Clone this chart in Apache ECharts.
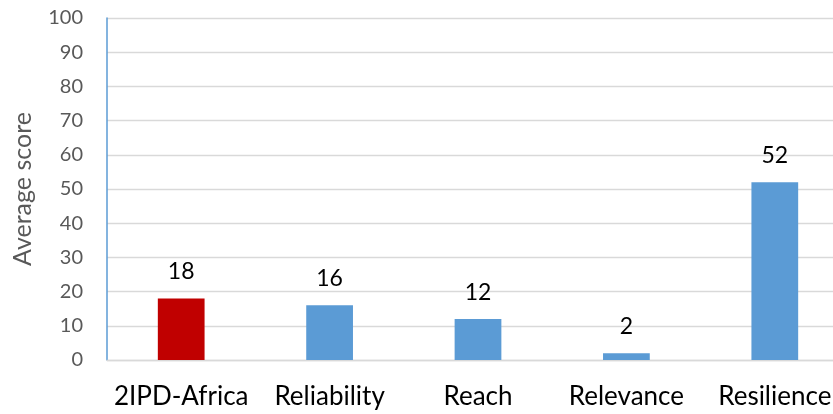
<!DOCTYPE html>
<html>
<head>
<meta charset="utf-8">
<script src="https://cdn.jsdelivr.net/npm/echarts@6/dist/echarts.min.js"></script>
<style>
  html, body { margin: 0; padding: 0; background: #fff; overflow: hidden; }
  #chart { width: 833px; height: 414px; }
</style>
</head>
<body>
<div id="chart"></div>
<script>
// Average score per dimension
const categories = ['2IPD-Africa', 'Reliability', 'Reach', 'Relevance', 'Resilience'];
const scores = [18, 16, 12, 2, 52];
const barColors = ['#C00000', '#5B9BD5', '#5B9BD5', '#5B9BD5', '#5B9BD5'];
const yTicks = { min: 0, max: 100, interval: 10 };

const font = 'Lato, "Open Sans", sans-serif';

const chart = echarts.init(document.getElementById('chart'), null, { renderer: 'canvas' });
chart.setOption({
  animation: false,
  // plot area runs slightly past the right edge of the canvas
  grid: {
    left: 107, width: 742, top: 18, height: 342,
    containLabel: false,
    outerBoundsMode: 'none'
  },
  xAxis: {
    type: 'category',
    data: categories,
    axisLine: { show: true, lineStyle: { color: '#D9D9D9', width: 1.3 } },
    axisTick: { show: false },
    axisLabel: { interval: 0, color: '#000', fontFamily: font, fontSize: 26, margin: 24 }
  },
  yAxis: {
    type: 'value',
    min: yTicks.min,
    max: yTicks.max,
    interval: yTicks.interval,
    name: 'Average score',
    nameLocation: 'middle',
    nameGap: 72,
    nameTextStyle: { color: '#595959', fontFamily: font, fontSize: 25 },
    axisLine: { show: true, lineStyle: { color: '#5B9BD5', width: 1.5 } },
    axisTick: { show: false },
    axisLabel: { color: '#595959', fontFamily: font, fontSize: 20, margin: 24 },
    splitLine: { lineStyle: { color: '#D9D9D9', width: 1.3 } }
  },
  series: [{
    type: 'bar',
    data: scores.map((v, i) => ({ value: v, itemStyle: { color: barColors[i] } })),
    barWidth: '31.5%',
    label: {
      show: true,
      position: 'top',
      distance: 15,
      color: '#000',
      fontFamily: font,
      fontSize: 23
    }
  }]
});
</script>
</body>
</html>
